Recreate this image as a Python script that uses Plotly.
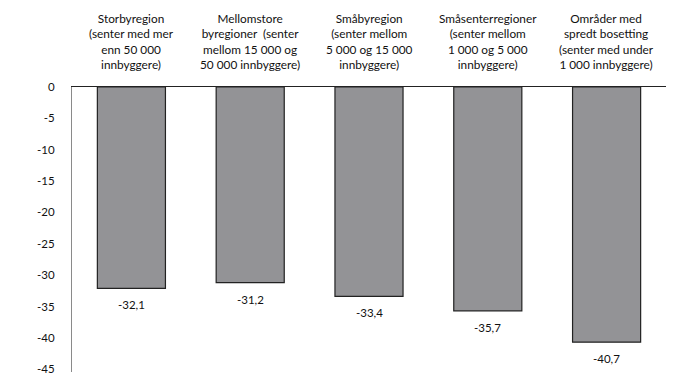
import plotly.graph_objects as go

categories = [
    "Storbyregion<br>(senter med mer<br>enn 50 000<br>innbyggere)",
    "Mellomstore<br>byregioner  (senter<br>mellom 15 000 og<br>50 000 innbyggere)",
    "Småbyregion<br>(senter mellom<br>5 000 og 15 000<br>innbyggere)",
    "Småsenterregioner<br>(senter mellom<br>1 000 og 5 000<br>innbyggere)",
    "Områder med<br>spredt bosetting<br>(senter med under<br>1 000 innbyggere)",
]
values = [-32.1, -31.2, -33.4, -35.7, -40.7]
y_ticks = [0, -5, -10, -15, -20, -25, -30, -35, -40, -45]

FONT = "Lato"
xs = list(range(len(categories)))

fig = go.Figure()
fig.add_trace(go.Bar(
    x=xs, y=values, width=0.573,
    marker=dict(color="#939396", line=dict(color="#222222", width=1.2)),
    hoverinfo="skip",
))

annotations = []
for i, v in enumerate(values):
    annotations.append(dict(
        x=i, y=v, xref="x", yref="y", text=f"{v:.1f}".replace(".", ","),
        showarrow=False, yanchor="top", yshift=-8,
        font=dict(family=FONT, size=11.5, color="#111111"),
    ))
for i, c in enumerate(categories):
    annotations.append(dict(
        x=i, y=1, xref="x", yref="paper", text=c,
        showarrow=False, yanchor="bottom", yshift=13,
        font=dict(family=FONT, size=11.8, color="#111111"),
    ))

fig.update_layout(
    width=700, height=390,
    margin=dict(l=64, r=42, t=79, b=26, autoexpand=False),
    paper_bgcolor="white", plot_bgcolor="white",
    showlegend=False,
    annotations=annotations,
    xaxis=dict(
        range=[-0.5, len(categories) - 0.5],
        showticklabels=False, showgrid=False, zeroline=False,
        side="top", showline=True, linecolor="#222222", linewidth=1,
        fixedrange=True, automargin=False,
    ),
    yaxis=dict(
        range=[-45.45, 0],
        tickvals=y_ticks, ticktext=[str(t) for t in y_ticks],
        showgrid=False, zeroline=False,
        showline=True, linecolor="#8a8a8a", linewidth=1,
        ticks="outside", ticklen=14, tickcolor="rgba(0,0,0,0)",
        tickfont=dict(family=FONT, size=11.5, color="#111111"),
        fixedrange=True, automargin=False,
    ),
    bargap=0.427,
)

fig.write_html("out.html")
